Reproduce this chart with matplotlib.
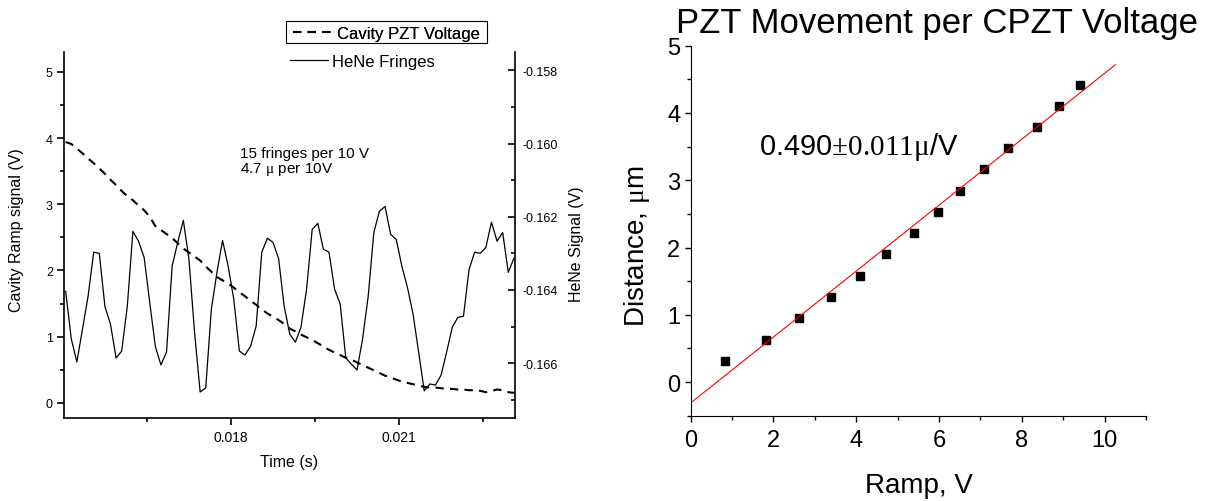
import numpy as np
import matplotlib
matplotlib.use("Agg")
import matplotlib.pyplot as plt
from matplotlib.ticker import MultipleLocator, FormatStrFormatter
from matplotlib.patches import Rectangle

plt.rcParams['font.family'] = ['Liberation Sans', 'DejaVu Sans']
plt.rcParams['mathtext.fontset'] = 'custom'
plt.rcParams['mathtext.rm'] = 'Liberation Serif'
plt.rcParams['mathtext.it'] = 'Liberation Serif:italic'
plt.rcParams['axes.unicode_minus'] = False

# scope trace (left panel), sampled every 0.1 ms
t_start = 0.01505
t_step = 0.0001
cavity_pzt = [3.94, 3.91, 3.84, 3.77, 3.69, 3.62, 3.54, 3.46, 3.37, 3.29,
              3.20, 3.12, 3.06, 2.98, 2.91, 2.81, 2.67, 2.61, 2.55, 2.49,
              2.41, 2.33, 2.27, 2.21, 2.15, 2.06, 1.98, 1.90, 1.85, 1.80,
              1.74, 1.67, 1.61, 1.54, 1.48, 1.41, 1.35, 1.30, 1.25, 1.19,
              1.12, 1.08, 1.03, 0.99, 0.95, 0.90, 0.85, 0.80, 0.76, 0.72,
              0.68, 0.65, 0.61, 0.57, 0.53, 0.49, 0.45, 0.41, 0.38, 0.35,
              0.32, 0.30, 0.28, 0.26, 0.24, 0.23, 0.23, 0.22, 0.21, 0.21,
              0.20, 0.20, 0.19, 0.19, 0.18, 0.16, 0.18, 0.20, 0.19, 0.16,
              0.15]
hene = [-0.16404, -0.16534, -0.16597, -0.16507, -0.16417, -0.16297, -0.16300, -0.16445, -0.16494, -0.16586,
        -0.16567, -0.16445, -0.16240, -0.16267, -0.16311, -0.16434, -0.16554, -0.16605, -0.16570, -0.16335,
        -0.16270, -0.16210, -0.16316, -0.16515, -0.16679, -0.16668, -0.16453, -0.16352, -0.16265, -0.16335,
        -0.16425, -0.16567, -0.16578, -0.16554, -0.16499, -0.16297, -0.16259, -0.16270, -0.16314, -0.16445,
        -0.16521, -0.16543, -0.16502, -0.16398, -0.16235, -0.16218, -0.16289, -0.16297, -0.16398, -0.16439,
        -0.16586, -0.16603, -0.16619, -0.16534, -0.16417, -0.16243, -0.16185, -0.16172, -0.16248, -0.16262,
        -0.16335, -0.16393, -0.16466, -0.16570, -0.16676, -0.16657, -0.16660, -0.16633, -0.16570, -0.16502,
        -0.16475, -0.16472, -0.16344, -0.16297, -0.16300, -0.16284, -0.16215, -0.16267, -0.16243, -0.16352,
        -0.16314]
time = t_start + t_step * np.arange(len(hene))

# calibration (right panel)
ramp = [0.84, 1.83, 2.61, 3.40, 4.09, 4.72, 5.40, 5.98, 6.50, 7.09, 7.67, 8.36, 8.90, 9.40]
distance = [0.32, 0.63, 0.95, 1.26, 1.58, 1.90, 2.21, 2.53, 2.84, 3.16, 3.48, 3.79, 4.11, 4.42]
fit_slope = 0.490
fit_icept = -0.31
fit_range = [0.0, 10.26]

W, H = 1210, 502
fig = plt.figure(figsize=(W / 100, H / 100), dpi=100)

def fx(px):
    return px / W

def fy(py):
    return 1 - py / H

# ---------- left panel ----------
ax1 = fig.add_axes([fx(64), fy(419), 451 / W, 366 / H])
l1, = ax1.plot(time, cavity_pzt, color='k', ls=(0, (4, 3)), lw=1.5,
               label='Cavity PZT Voltage')
ax1.set_xlim(0.01502, 0.02307)
ax1.set_ylim(-0.23, 5.3)
ax1.xaxis.set_major_locator(MultipleLocator(0.003))
ax1.xaxis.set_minor_locator(MultipleLocator(0.0015))
ax1.xaxis.set_major_formatter(FormatStrFormatter('%.3f'))
ax1.yaxis.set_major_locator(MultipleLocator(1))
ax1.yaxis.set_minor_locator(MultipleLocator(0.5))
ax1.tick_params(which='both', direction='out', width=1.2)
ax1.tick_params(which='major', length=5)
ax1.tick_params(which='minor', length=3)
ax1.tick_params(axis='x', labelsize=10, pad=4)
ax1.tick_params(axis='y', labelsize=9, pad=3)
ax1.tick_params(axis='y', which='both', right=False)
for s in ['left', 'bottom']:
    ax1.spines[s].set_linewidth(1.2)
ax1.spines['top'].set_visible(False)
ax1.spines['right'].set_visible(False)

ax2 = ax1.twinx()
l2, = ax2.plot(time, hene, color='k', lw=0.9, label='HeNe Fringes')
ax2.set_ylim(-0.1675, -0.1575)
ax2.yaxis.set_major_locator(MultipleLocator(0.002))
ax2.yaxis.set_minor_locator(MultipleLocator(0.001))
ax2.yaxis.set_major_formatter(FormatStrFormatter('%.3f'))
ax2.tick_params(which='both', direction='in', width=1.2, labelsize=9, pad=5.5)
ax2.tick_params(which='major', length=5)
ax2.tick_params(which='minor', length=3)
ax2.spines['right'].set_linewidth(1.2)
ax2.spines['top'].set_visible(False)
ax2.spines['left'].set_visible(False)
ax2.spines['bottom'].set_visible(False)

ax1.set_xlabel('Time (s)', fontsize=11.5, va='center')
ax1.xaxis.set_label_coords(0.498, -0.1175)
ax1.set_ylabel('Cavity Ramp signal (V)', fontsize=11.5, va='center')
ax1.yaxis.set_label_coords(-0.1064, 0.516)
ax2.set_ylabel('HeNe Signal (V)', fontsize=11.5, va='center')
ax2.yaxis.set_label_coords(1.136, 0.478)

leg1 = ax1.legend(handles=[l1], loc='center left', bbox_to_anchor=(fx(289.7), fy(34.3)),
                  bbox_transform=fig.transFigure, frameon=False, fontsize=12,
                  borderpad=0.2, borderaxespad=0, handlelength=2.5, handletextpad=0.12)
ax1.add_artist(leg1)
leg2 = ax2.legend(handles=[l2], loc='center left', bbox_to_anchor=(fx(286.7), fy(62.7)),
                  bbox_transform=fig.transFigure, frameon=False, fontsize=12,
                  borderpad=0.2, borderaxespad=0, handlelength=2.3, handletextpad=0.24)
fig.patches.append(Rectangle((fx(285.7), fy(44)), (487.3 - 285.7) / W, 21.7 / H,
                             transform=fig.transFigure, fill=False, edgecolor='k', lw=0.8))

ax1.text(0.390, 0.712, '15 fringes per 10 V', transform=ax1.transAxes,
         fontsize=11, va='baseline')
ax1.text(0.390, 0.672, r'4.7 $\mathrm{μ}$ per 10V', transform=ax1.transAxes,
         fontsize=11, va='baseline')

# ---------- right panel ----------
ax3 = fig.add_axes([fx(690.7), fy(416.7), 455.3 / W, 370 / H])
ax3.plot(ramp, distance, 's', color='k', ms=5.5)
fx_line = np.array(fit_range)
ax3.plot(fx_line, fit_slope * fx_line + fit_icept, color='red', lw=0.8)
ax3.set_xlim(0, 11)
ax3.set_ylim(-0.5, 5)
ax3.xaxis.set_major_locator(MultipleLocator(2))
ax3.xaxis.set_minor_locator(MultipleLocator(1))
ax3.yaxis.set_major_locator(MultipleLocator(1))
ax3.yaxis.set_minor_locator(MultipleLocator(0.5))
ax3.tick_params(which='both', direction='out', width=1.0, labelsize=17)
ax3.tick_params(which='major', length=4.5)
ax3.tick_params(which='minor', length=3)
ax3.tick_params(axis='x', pad=5)
ax3.tick_params(axis='y', pad=3)
ax3.spines['top'].set_visible(False)
ax3.spines['right'].set_visible(False)

ax3.set_xlabel('Ramp, V', fontsize=20, va='center')
ax3.xaxis.set_label_coords(0.501, -0.187)
ax3.set_ylabel(r'Distance, $\mathrm{μ}$m', fontsize=20, va='center')
ax3.yaxis.set_label_coords(-0.118, 0.461)

ax3.text(1.65, 3.39, r'0.490$\mathrm{±0.011μ}$/V', fontsize=21, va='baseline')
fig.text(fx(936.5), fy(33), 'PZT Movement per CPZT Voltage', ha='center',
         va='baseline', fontsize=25)

fig.savefig('out.png', dpi=100)
